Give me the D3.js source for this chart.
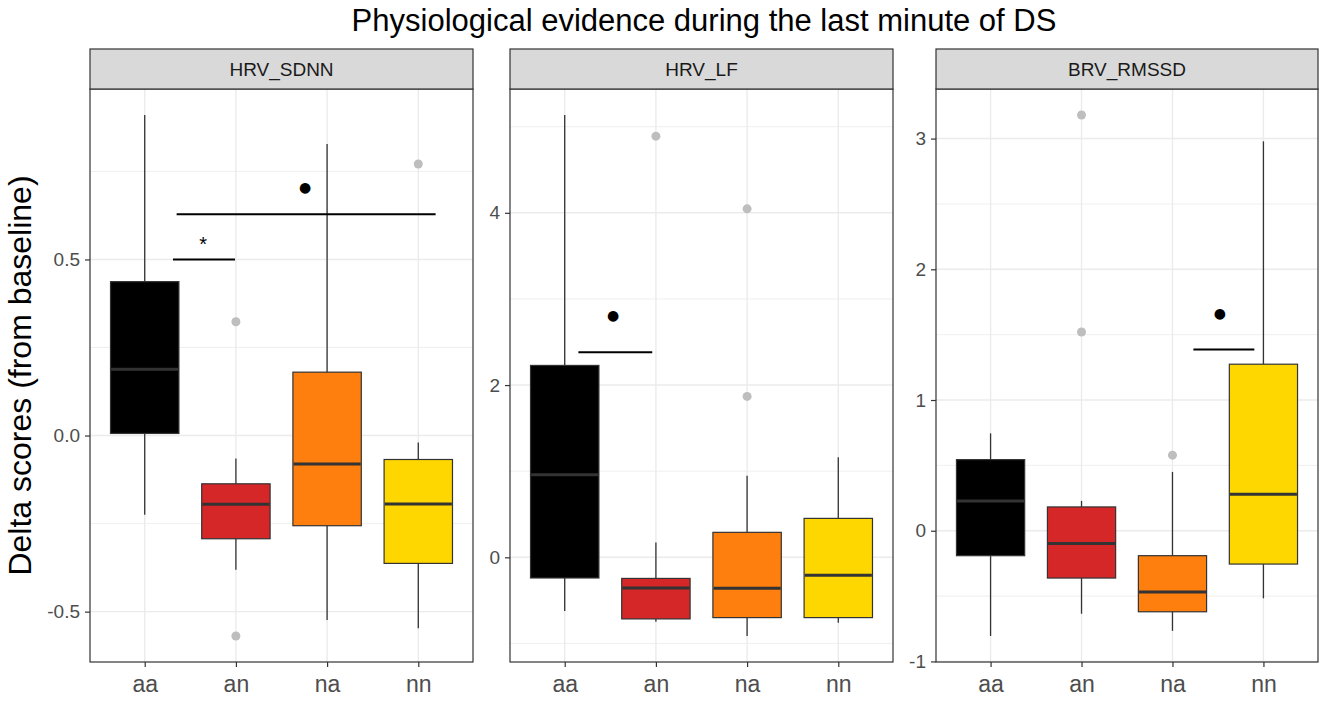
<!DOCTYPE html>
<html>
<head>
<meta charset="utf-8">
<script src="https://cdn.jsdelivr.net/npm/d3@7"></script>
<style>
  html, body { margin: 0; padding: 0; background: #fff; }
  svg { display: block; font-family: "Liberation Sans", Arial, sans-serif; }
</style>
</head>
<body>
<svg id="chart" width="1325" height="715"></svg>
<script>
// ---------------- data ----------------
const title = "Physiological evidence during the last minute of DS";
const yTitle = "Delta scores (from baseline)";
const categories = ["aa", "an", "na", "nn"];
const fillColors = ["#000000", "#D62728", "#FF7F0E", "#FFD700"];
const panels = ["HRV_SDNN", "HRV_LF", "BRV_RMSSD"];

// box stats per category: [lowerWhisker, q1, median, q3, upperWhisker]
const statsSDNN = [
  [-0.225, 0.006, 0.188, 0.437, 0.91],
  [-0.381, -0.293, -0.195, -0.137, -0.065],
  [-0.524, -0.256, -0.081, 0.18, 0.828],
  [-0.547, -0.363, -0.194, -0.068, -0.02]
];
const statsLF = [
  [-0.623, -0.24, 0.96, 2.228, 5.135],
  [-0.747, -0.715, -0.355, -0.245, 0.171],
  [-0.913, -0.70, -0.36, 0.29, 0.946],
  [-0.761, -0.70, -0.208, 0.452, 1.163]
];
const statsRMSSD = [
  [-0.805, -0.191, 0.228, 0.544, 0.745],
  [-0.635, -0.362, -0.097, 0.182, 0.228],
  [-0.766, -0.62, -0.468, -0.191, 0.45],
  [-0.517, -0.255, 0.28, 1.274, 2.979]
];
// outliers per category
const outliersSDNN = [[], [0.323, -0.569], [], [0.771]];
const outliersLF = [[], [4.89], [4.046, 1.868], []];
const outliersRMSSD = [[], [3.18, 1.52], [0.578], []];

// y tick values and labels
const ticksSDNN = [-0.5, 0, 0.5];
const tickLabelsSDNN = ["-0.5", "0.0", "0.5"];
const minorSDNN = [-0.25, 0.25, 0.75];
const ticksLF = [0, 2, 4];
const tickLabelsLF = ["0", "2", "4"];
const minorLF = [-1, 1, 3, 5];
const ticksRMSSD = [-1, 0, 1, 2, 3];
const tickLabelsRMSSD = ["-1", "0", "1", "2", "3"];
const minorRMSSD = [-0.5, 0.5, 1.5, 2.5];

// significance brackets: x in category units (1 = aa), y in data units
const sigSDNN = [
  {x1: 1.31, x2: 1.99, y: 0.5, label: "*", lx: 1.64, ly: 0.545},
  {x1: 1.35, x2: 4.19, y: 0.628, label: "●", lx: 2.76, ly: 0.707}
];
const sigLF = [
  {x1: 1.15, x2: 1.96, y: 2.38, label: "●", lx: 1.53, ly: 2.81}
];
const sigRMSSD = [
  {x1: 3.23, x2: 3.90, y: 1.386, label: "●", lx: 3.52, ly: 1.666}
];

const panelData = [
  {name: panels[0], stats: statsSDNN, outliers: outliersSDNN, ticks: ticksSDNN, tickLabels: tickLabelsSDNN, minor: minorSDNN, sig: sigSDNN},
  {name: panels[1], stats: statsLF, outliers: outliersLF, ticks: ticksLF, tickLabels: tickLabelsLF, minor: minorLF, sig: sigLF},
  {name: panels[2], stats: statsRMSSD, outliers: outliersRMSSD, ticks: ticksRMSSD, tickLabels: tickLabelsRMSSD, minor: minorRMSSD, sig: sigRMSSD}
];

// ---------------- layout ----------------
const panelX = [[90, 473], [510, 893], [936, 1318]];
const stripTop = 49, panelTop = 89, panelBottom = 662;

const svg = d3.select("#chart");

svg.append("text")
  .attr("x", (panelX[0][0] + panelX[2][1]) / 2)
  .attr("y", 31)
  .attr("text-anchor", "middle")
  .attr("font-size", 31)
  .attr("fill", "#000")
  .text(title);

svg.append("text")
  .attr("transform", `translate(31,${(panelTop + panelBottom) / 2}) rotate(-90)`)
  .attr("text-anchor", "middle")
  .attr("font-size", 32)
  .attr("fill", "#000")
  .text(yTitle);

panelData.forEach((p, i) => {
  const [x0, x1] = panelX[i];
  const g = svg.append("g");

  const x = d3.scalePoint().domain(categories).range([x0, x1]).padding(0.6);
  const step = x.step();
  const xPos = v => x(categories[0]) + (v - 1) * step;

  const allVals = p.stats.flatMap(s => [s[0], s[4]]).concat(p.outliers.flat());
  const [mn, mx] = d3.extent(allVals);
  const pad = (mx - mn) * 0.05;
  const y = d3.scaleLinear().domain([mn - pad, mx + pad]).range([panelBottom, panelTop]);

  // minor grid
  g.selectAll(".minor").data(p.minor.filter(v => v >= y.domain()[0] && v <= y.domain()[1]))
    .join("line")
    .attr("x1", x0).attr("x2", x1)
    .attr("y1", d => y(d)).attr("y2", d => y(d))
    .attr("stroke", "#EBEBEB").attr("stroke-width", 0.8);
  // major grid
  g.selectAll(".major").data(p.ticks)
    .join("line")
    .attr("x1", x0).attr("x2", x1)
    .attr("y1", d => y(d)).attr("y2", d => y(d))
    .attr("stroke", "#EBEBEB").attr("stroke-width", 1.4);
  g.selectAll(".vgrid").data(categories)
    .join("line")
    .attr("x1", d => x(d)).attr("x2", d => x(d))
    .attr("y1", panelTop).attr("y2", panelBottom)
    .attr("stroke", "#EBEBEB").attr("stroke-width", 1.4);

  const bw = step * 0.75;
  categories.forEach((c, k) => {
    const s = p.stats[k];
    const cx = x(c);
    // whiskers
    g.append("line").attr("x1", cx).attr("x2", cx)
      .attr("y1", y(s[4])).attr("y2", y(s[3]))
      .attr("stroke", "#333").attr("stroke-width", 1.3);
    g.append("line").attr("x1", cx).attr("x2", cx)
      .attr("y1", y(s[1])).attr("y2", y(s[0]))
      .attr("stroke", "#333").attr("stroke-width", 1.3);
    // box
    g.append("rect")
      .attr("x", cx - bw / 2).attr("width", bw)
      .attr("y", y(s[3])).attr("height", y(s[1]) - y(s[3]))
      .attr("fill", fillColors[k])
      .attr("stroke", "#333").attr("stroke-width", 1.2);
    // median
    g.append("line")
      .attr("x1", cx - bw / 2 + 0.6).attr("x2", cx + bw / 2 - 0.6)
      .attr("y1", y(s[2])).attr("y2", y(s[2]))
      .attr("stroke", "#333").attr("stroke-width", 3);
    // outliers
    g.selectAll(null).data(p.outliers[k]).join("circle")
      .attr("cx", cx).attr("cy", d => y(d)).attr("r", 4.5)
      .attr("fill", "#BEBEBE");
  });

  // significance annotations
  p.sig.forEach(s => {
    g.append("line")
      .attr("x1", xPos(s.x1)).attr("x2", xPos(s.x2))
      .attr("y1", y(s.y)).attr("y2", y(s.y))
      .attr("stroke", "#000").attr("stroke-width", 2);
    g.append("text")
      .attr("x", xPos(s.lx)).attr("y", y(s.ly))
      .attr("text-anchor", "middle")
      .attr("dominant-baseline", "central")
      .attr("font-family", s.label === "*" ? "Liberation Sans, Arial, sans-serif" : "DejaVu Sans, sans-serif")
      .attr("font-size", s.label === "*" ? 20 : 14)
      .attr("fill", "#000")
      .text(s.label);
  });

  // panel border
  g.append("rect")
    .attr("x", x0).attr("y", panelTop)
    .attr("width", x1 - x0).attr("height", panelBottom - panelTop)
    .attr("fill", "none").attr("stroke", "#333").attr("stroke-width", 1.2);

  // strip
  g.append("rect")
    .attr("x", x0).attr("y", stripTop)
    .attr("width", x1 - x0).attr("height", panelTop - stripTop)
    .attr("fill", "#D9D9D9").attr("stroke", "#333").attr("stroke-width", 1.2);
  g.append("text")
    .attr("x", (x0 + x1) / 2).attr("y", (stripTop + panelTop) / 2)
    .attr("dy", "0.36em")
    .attr("text-anchor", "middle")
    .attr("font-size", 19)
    .attr("fill", "#1A1A1A")
    .text(p.name);

  // y axis
  const yAxis = d3.axisLeft(y).tickValues(p.ticks)
    .tickFormat((d, j) => p.tickLabels[j])
    .tickSize(5).tickPadding(5);
  const ya = g.append("g").attr("transform", `translate(${x0},0)`).call(yAxis);
  ya.select(".domain").remove();
  ya.selectAll(".tick line").attr("stroke", "#333").attr("stroke-width", 1.2);
  ya.selectAll(".tick text").attr("font-size", 19).attr("fill", "#4D4D4D")
    .attr("font-family", "Liberation Sans, Arial, sans-serif");

  // x axis
  const xAxis = d3.axisBottom(x).tickSize(5).tickPadding(9);
  const xa = g.append("g").attr("transform", `translate(0,${panelBottom})`).call(xAxis);
  xa.select(".domain").remove();
  xa.selectAll(".tick line").attr("stroke", "#333").attr("stroke-width", 1.2);
  xa.selectAll(".tick text").attr("font-size", 23).attr("fill", "#4D4D4D")
    .attr("font-family", "Liberation Sans, Arial, sans-serif");
});
</script>
</body>
</html>
